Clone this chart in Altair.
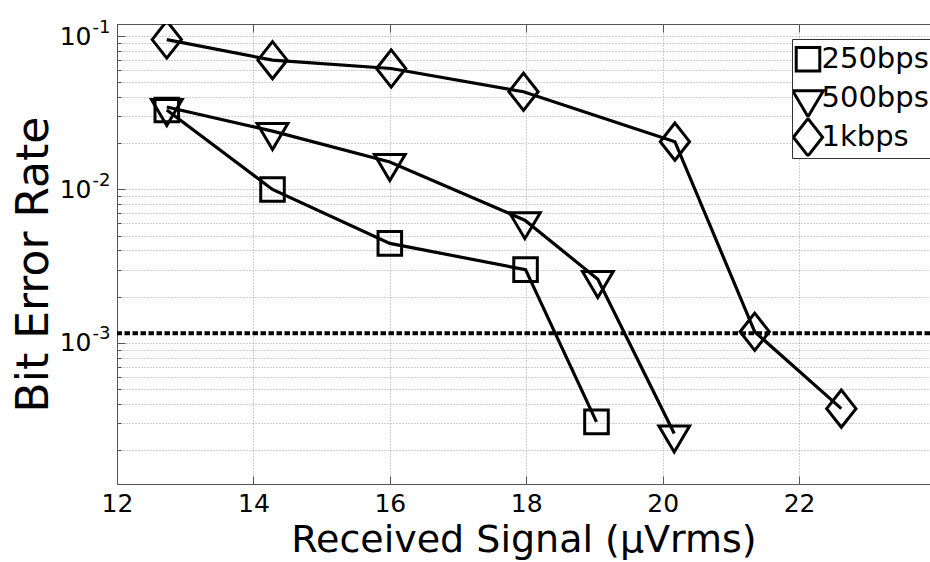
import altair as alt
import pandas as pd

# ---------------- data ----------------
SERIES = ["250bps", "500bps", "1kbps"]

X_250 = [12.73, 14.28, 16.00, 17.99, 19.03]
Y_250 = [0.0330, 0.0100, 0.00445, 0.00300, 0.000305]

X_500 = [12.73, 14.28, 16.00, 17.98, 19.05, 20.17]
Y_500 = [0.0345, 0.0240, 0.0151, 0.0063, 0.00260, 0.000256]

X_1K = [12.73, 14.28, 16.02, 17.96, 20.18, 21.35, 22.62]
Y_1K = [0.0950, 0.0697, 0.0615, 0.0434, 0.0205, 0.00118, 0.000372]

THRESHOLD = [0.001156]

X_TICKS = [12, 14, 16, 18, 20, 22]
X_DOMAIN = [12, 23.92]
Y_DOMAIN = [1.2e-4, 0.12]
DECADES = [1e-4, 1e-3, 1e-2, 1e-1]
MULTS = [1, 2, 3, 4, 5, 6, 7, 8, 9]

X_TITLE = "Received Signal (\u03bcVrms)"
Y_TITLE = "Bit Error Rate"

# ---------------- helpers ----------------
rows = []
for name, xs, ys in [(SERIES[0], X_250, Y_250), (SERIES[1], X_500, Y_500), (SERIES[2], X_1K, Y_1K)]:
    for xv, yv in zip(xs, ys):
        rows.append({"series": name, "x": xv, "y": yv})
df = pd.DataFrame(rows)
thr = pd.DataFrame({"y": THRESHOLD})

Y_VALUES = [m * d for d in DECADES for m in MULTS if Y_DOMAIN[0] <= m * d <= Y_DOMAIN[1]]
Y_DECADES = [d for d in DECADES if Y_DOMAIN[0] <= d <= Y_DOMAIN[1]]

# marker outlines (unit paths, drawn at sqrt(size)/2)
PATHS = [
    "M-0.62,-0.62L0.62,-0.62L0.62,0.62L-0.62,0.62Z",          # square
    "M-0.81,-0.40L0.81,-0.40L0,0.97Z",                          # triangle down
    "M-0.77,0L0,-0.98L0.77,0L0,0.98Z",                          # diamond
]
MSIZE = 1444

W, H = 813, 460
FONT = "DejaVu Sans"
AXC = "#555555"
GRIDC = "#a0a0a0"

xscale = alt.Scale(domain=X_DOMAIN, nice=False, zero=False)
yscale = alt.Scale(type="log", domain=Y_DOMAIN, nice=False)

decade_test = "abs(log(datum.value)/LN10 - round(log(datum.value)/LN10)) < 0.001"
ten_expr = "(" + decade_test + ") ? '10' : ''"
exp_expr = "'-' + (-round(log(datum.value)/LN10))"

# main axes: labels ("10"), grid, frame lines (left & bottom)
x_axis_a = alt.Axis(orient="bottom", values=X_TICKS, grid=True, gridColor=GRIDC, gridDash=[1, 2],
                    gridWidth=1, ticks=False, tickSize=0, domain=True, domainColor=AXC, domainWidth=1,
                    labelFont=FONT, labelFontSize=25, labelColor="black", labelPadding=7,
                    labelOverlap=False, labelFlush=False,
                    title=X_TITLE, titleFont=FONT, titleFontSize=38, titleFontWeight="normal",
                    titleColor="black", titleBaseline="alphabetic", titleY=67)
y_axis_a = alt.Axis(orient="left", values=Y_VALUES, grid=True, gridColor=GRIDC, gridDash=[1, 2],
                    gridWidth=1, ticks=False, tickSize=0, domain=True, domainColor=AXC, domainWidth=1,
                    labelExpr=ten_expr, labelFont=FONT, labelFontSize=25, labelColor="black",
                    labelPadding=26, labelOverlap=False, labelFlush=False, labelBaseline="middle",
                    title=Y_TITLE, titleFont=FONT, titleFontSize=44, titleFontWeight="normal",
                    titleColor="black", titleAngle=270, titleBaseline="alphabetic",
                    titleX=-70, titleY=240)

# inward ticks: bottom edge (top-oriented axis moved to the bottom)
x_axis_b = alt.Axis(orient="top", offset=-H, values=X_TICKS, grid=False, domain=False, labels=False,
                    ticks=True, tickSize=8, tickColor=AXC, tickWidth=1, title=None)
# inward ticks: top edge + top frame line (bottom-oriented axis moved to the top)
x_axis_c = alt.Axis(orient="bottom", offset=-H, values=X_TICKS, grid=False, domain=True,
                    domainColor=AXC, domainWidth=1, labels=False,
                    ticks=True, tickSize=8, tickColor=AXC, tickWidth=1, title=None)
# inward ticks on the left edge
y_axis_b = alt.Axis(orient="right", offset=-W, values=Y_VALUES, grid=False, domain=False, labels=False,
                    ticks=True, tickSize={"condition": {"test": decade_test, "value": 8}, "value": 4},
                    tickColor=AXC, tickWidth=1, title=None)
# superscript exponents of the decade labels
y_axis_c = alt.Axis(orient="left", values=Y_DECADES, grid=False, domain=False, ticks=False, tickSize=0,
                    labelExpr=exp_expr, labelFont=FONT, labelFontSize=18, labelColor="black",
                    labelAlign="left", labelBaseline="alphabetic", labelPadding=25,
                    labelOffset=-4, labelOverlap=False, labelFlush=False, title=None)

lines = alt.Chart(df).mark_line(color="black", strokeWidth=3.2, clip=True).encode(
    x=alt.X("x:Q", scale=xscale, axis=x_axis_a),
    y=alt.Y("y:Q", scale=yscale, axis=y_axis_a),
    detail="series:N",
)

points = alt.Chart(df).mark_point(filled=False, color="black", strokeWidth=3, size=MSIZE,
                                   opacity=1, clip=True).encode(
    x=alt.X("x:Q", scale=xscale, axis=x_axis_b),
    y=alt.Y("y:Q", scale=yscale, axis=y_axis_b),
    shape=alt.Shape("series:N", scale=alt.Scale(domain=SERIES, range=PATHS),
                    legend=alt.Legend(orient="none", legendX=675, legendY=15, title=None,
                                      labelFont=FONT, labelFontSize=29, labelColor="black",
                                      labelExpr="datum.label + '\u00a0\u00a0\u00a0'",
                                      symbolSize=MSIZE, symbolStrokeWidth=3,
                                      symbolStrokeColor="black", symbolFillColor="transparent",
                                      symbolOffset=-5.5, labelOffset={"expr": "-7"},
                                      gridAlign="all", rowPadding=0, clipHeight=38.5,
                                      padding=1, strokeColor="#333333", fillColor="white",
                                      cornerRadius=0)),
)

ghost = alt.Chart(df).mark_point(opacity=0).encode(
    x=alt.X("x:Q", scale=xscale, axis=x_axis_c),
    y=alt.Y("y:Q", scale=yscale, axis=y_axis_c),
)

rule = alt.Chart(thr).mark_rule(color="black", strokeWidth=4, strokeDash=[5.5, 2.5]).encode(
    y=alt.Y("y:Q", scale=yscale, axis=None),
)

chart = alt.layer(lines, rule, points, ghost).resolve_axis(
    x="independent", y="independent"
).properties(
    width=W, height=H,
    autosize=alt.AutoSizeParams(type="none"),
    padding={"left": 117, "top": 24, "right": 0, "bottom": 78},
    background="white",
).configure_view(stroke=None)

chart.save("out.html", embed_options={"renderer": "svg", "actions": False})
